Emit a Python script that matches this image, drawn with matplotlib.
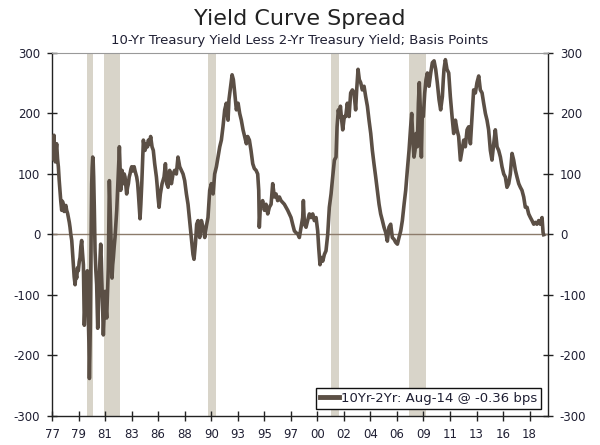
import numpy as np
import matplotlib
matplotlib.use("Agg")
import matplotlib.pyplot as plt

# 10Yr-2Yr spread, decimal year / basis points
years = [
    1977.00, 1977.08, 1977.17, 1977.23, 1977.29, 1977.35, 1977.40, 1977.48, 1977.55, 1977.62,
    1977.69, 1977.76, 1977.84, 1977.90, 1977.98, 1978.05, 1978.13, 1978.20, 1978.27, 1978.35,
    1978.42, 1978.50, 1978.56, 1978.63, 1978.71, 1978.78, 1978.85, 1978.92, 1979.00, 1979.07,
    1979.14, 1979.21, 1979.28, 1979.36, 1979.43, 1979.50, 1979.57, 1979.64, 1979.72, 1979.76,
    1979.80, 1979.88, 1979.95, 1980.01, 1980.06, 1980.10, 1980.15, 1980.20, 1980.24, 1980.28,
    1980.32, 1980.36, 1980.40, 1980.44, 1980.48, 1980.53, 1980.57, 1980.61, 1980.67, 1980.73,
    1980.80, 1980.87, 1980.92, 1980.96, 1981.03, 1981.10, 1981.16, 1981.22, 1981.27, 1981.33,
    1981.40, 1981.45, 1981.52, 1981.60, 1981.67, 1981.74, 1981.80, 1981.88, 1981.93, 1981.97,
    1982.03, 1982.09, 1982.15, 1982.20, 1982.26, 1982.32, 1982.39, 1982.46, 1982.53, 1982.61,
    1982.68, 1982.75, 1982.80, 1982.84, 1982.90, 1982.95, 1983.01, 1983.07, 1983.13, 1983.19,
    1983.26, 1983.33, 1983.40, 1983.47, 1983.55, 1983.62, 1983.69, 1983.76, 1983.84, 1983.91,
    1983.98, 1984.05, 1984.12, 1984.20, 1984.27, 1984.34, 1984.42, 1984.49, 1984.56, 1984.63,
    1984.70, 1984.78, 1984.85, 1984.92, 1984.99, 1985.06, 1985.14, 1985.21, 1985.28, 1985.35,
    1985.45, 1985.55, 1985.67, 1985.78, 1985.90, 1986.05, 1986.12, 1986.19, 1986.28, 1986.39,
    1986.54, 1986.71, 1986.83, 1986.94, 1987.06, 1987.20, 1987.35, 1987.49, 1987.63, 1987.78,
    1987.92, 1988.07, 1988.21, 1988.36, 1988.50, 1988.65, 1988.79, 1988.93, 1989.08, 1989.22,
    1989.31, 1989.43, 1989.54, 1989.66, 1989.80, 1989.95, 1990.09, 1990.24, 1990.38, 1990.52,
    1990.67, 1990.81, 1990.96, 1991.10, 1991.25, 1991.39, 1991.54, 1991.68, 1991.82, 1991.97,
    1992.11, 1992.26, 1992.34, 1992.49, 1992.61, 1992.72, 1992.84, 1992.98, 1993.13, 1993.27,
    1993.41, 1993.56, 1993.70, 1993.85, 1993.96, 1994.11, 1994.25, 1994.40, 1994.54, 1994.69,
    1994.83, 1994.92, 1994.97, 1995.06, 1995.15, 1995.26, 1995.41, 1995.55, 1995.70, 1995.84,
    1995.99, 1996.13, 1996.28, 1996.42, 1996.56, 1996.71, 1996.85, 1997.00, 1997.14, 1997.29,
    1997.43, 1997.57, 1997.72, 1997.86, 1998.01, 1998.15, 1998.30, 1998.44, 1998.59, 1998.73,
    1998.79, 1998.88, 1999.02, 1999.16, 1999.31, 1999.45, 1999.60, 1999.74, 1999.89, 2000.03,
    2000.12, 2000.23, 2000.35, 2000.47, 2000.61, 2000.75, 2000.90, 2001.04, 2001.19, 2001.33,
    2001.48, 2001.62, 2001.71, 2001.82, 2001.91, 2002.00, 2002.11, 2002.20, 2002.34, 2002.46,
    2002.60, 2002.75, 2002.89, 2003.04, 2003.18, 2003.32, 2003.41, 2003.53, 2003.64, 2003.76,
    2003.90, 2004.05, 2004.19, 2004.34, 2004.48, 2004.63, 2004.77, 2004.91, 2005.06, 2005.20,
    2005.35, 2005.49, 2005.64, 2005.78, 2005.93, 2006.07, 2006.21, 2006.36, 2006.50, 2006.65,
    2006.79, 2006.94, 2007.08, 2007.23, 2007.37, 2007.52, 2007.66, 2007.80, 2007.95, 2008.09,
    2008.18, 2008.30, 2008.38, 2008.47, 2008.56, 2008.67, 2008.76, 2008.84, 2008.93, 2009.02,
    2009.10, 2009.19, 2009.31, 2009.42, 2009.54, 2009.68, 2009.83, 2009.97, 2010.12, 2010.26,
    2010.40, 2010.55, 2010.69, 2010.84, 2010.92, 2010.98, 2011.10, 2011.24, 2011.39, 2011.53,
    2011.68, 2011.82, 2011.97, 2012.11, 2012.25, 2012.40, 2012.54, 2012.69, 2012.83, 2012.98,
    2013.12, 2013.27, 2013.41, 2013.55, 2013.70, 2013.84, 2013.99, 2014.13, 2014.28, 2014.42,
    2014.57, 2014.71, 2014.85, 2015.00, 2015.14, 2015.29, 2015.43, 2015.58, 2015.72, 2015.87,
    2016.01, 2016.16, 2016.30, 2016.44, 2016.59, 2016.73, 2016.88, 2017.02, 2017.17, 2017.31,
    2017.46, 2017.60, 2017.74, 2017.89, 2018.03, 2018.18, 2018.32, 2018.47, 2018.61, 2018.76,
    2018.90, 2019.04, 2019.19, 2019.33, 2019.48, 2019.57, 2019.62,
]
spread = [
    125, 150, 164, 135, 120, 140, 150, 125, 112, 90,
    73, 55, 40, 55, 50, 38, 45, 48, 40, 35,
    28, 20, 12, 0, -10, -30, -50, -70, -83, -65,
    -72, -55, -60, -45, -38, -20, -10, -30, -50, -100,
    -150, -110, -83, -70, -60, -100, -138, -180, -238, -200,
    -150, -60, 20, 84, 110, 128, 120, 95, 40, -27,
    -60, -83, -120, -155, -110, -70, -40, -16, -40, -83,
    -130, -166, -130, -94, -120, -138, -100, -55, 20, 89,
    50, 12, -30, -72, -50, -38, -20, -5, 15, 40,
    70, 100, 125, 145, 110, 73, 95, 106, 95, 84,
    100, 95, 80, 67, 78, 84, 95, 100, 108, 112,
    105, 109, 112, 105, 100, 95, 85, 67, 45, 26,
    50, 84, 120, 156, 145, 139, 145, 150, 145, 156,
    150, 162, 145, 139, 117, 95, 80, 62, 45, 67,
    84, 95, 117, 84, 78, 106, 84, 100, 106, 100,
    128, 112, 106, 100, 89, 67, 50, 23, -5, -33,
    -41, -16, 17, 23, -5, 23, 12, -5, 14, 28,
    73, 84, 67, 100, 112, 128, 145, 156, 178, 206,
    217, 189, 223, 245, 264, 256, 234, 206, 217, 200,
    189, 173, 162, 150, 162, 156, 139, 117, 109, 106,
    100, 73, 12, 45, 50, 56, 40, 50, 34, 45,
    50, 84, 62, 67, 56, 62, 56, 53, 50, 45,
    40, 34, 28, 17, 6, 3, 1, -5, 12, 28,
    56, 17, 12, 23, 34, 28, 34, 23, 28, 6,
    -22, -50, -38, -44, -33, -27, 0, 45, 67, 95,
    123, 128, 178, 206, 195, 212, 189, 173, 195, 195,
    217, 195, 234, 239, 234, 206, 239, 273, 256, 251,
    239, 245, 228, 212, 189, 167, 139, 117, 95, 73,
    50, 34, 23, 12, 3, -11, 12, 17, -5, -8,
    -13, -16, -5, 6, 23, 50, 73, 106, 139, 178,
    200, 150, 128, 139, 167, 145, 217, 251, 206, 128,
    200, 195, 234, 256, 267, 245, 267, 284, 287, 273,
    251, 223, 206, 228, 256, 273, 289, 273, 267, 228,
    195, 167, 189, 173, 162, 123, 139, 156, 145, 173,
    178, 150, 195, 239, 234, 251, 262, 239, 234, 217,
    200, 189, 173, 139, 123, 150, 173, 145, 139, 128,
    112, 100, 95, 78, 84, 100, 134, 123, 106, 95,
    84, 78, 73, 62, 45, 45, 34, 28, 23, 17,
    20, 17, 23, 17, 28, 3, -0.36,
]

# recessions (start, end)
rec_start = [1980.00, 1981.54, 1990.50, 2001.17, 2007.92]
rec_end = [1980.54, 1982.87, 1991.21, 2001.87, 2009.46]

tick_labels = ["77", "79", "81", "83", "86", "88", "90", "93", "95", "97",
               "00", "02", "04", "06", "09", "11", "13", "16", "18"]
y_ticks = [-300, -200, -100, 0, 100, 200, 300]

line_color = "#5b4f45"
text_color = "#1f1f33"


def draw_chart():
    plt.rcParams["font.family"] = ["DejaVu Sans"]
    # 元のチャートはハイフンのマイナス
    plt.rcParams["axes.unicode_minus"] = False
    fig = plt.figure(figsize=(6, 4.45), dpi=100)
    ax = fig.add_axes([0.0867, 0.0652, 0.8267, 0.8157])

    # 景気後退期の帯
    for s, e in zip(rec_start, rec_end):
        ax.axvspan(s, e, color="#d8d4c9", lw=0, zorder=1)

    ax.axhline(0, color="#8c7b6b", lw=1.0, zorder=2)
    ax.plot(years, spread, color=line_color, lw=2.6, zorder=3,
            solid_joinstyle="round",
            label="10Yr-2Yr: Aug-14 @ -0.36 bps")

    ax.set_xlim(1977.0, 2020.0)
    ax.set_ylim(-300, 300)
    ax.set_xticks(np.linspace(1977.0, 2018.4, len(tick_labels)))
    ax.set_xticklabels(tick_labels)
    ax.set_yticks(y_ticks)

    ax.tick_params(axis="both", direction="inout", length=7, width=1,
                   colors="#222222", labelcolor=text_color, labelsize=8.5)
    ax.tick_params(axis="y", right=True, labelright=True, pad=5)
    ax.tick_params(axis="x", pad=5)

    for side in ["left", "right", "bottom"]:
        ax.spines[side].set_color("#222222")
        ax.spines[side].set_linewidth(1.0)
    ax.spines["top"].set_color("#999999")
    ax.spines["top"].set_linewidth(0.8)

    leg = ax.legend(loc="lower right", fontsize=9.5, frameon=True,
                    fancybox=False, framealpha=1, borderpad=0.3,
                    handlelength=1.4, handletextpad=0.15,
                    borderaxespad=0.55, labelcolor=text_color)
    leg.get_frame().set_edgecolor("#111111")
    leg.get_frame().set_linewidth(1.0)
    for h in leg.get_lines():
        h.set_linewidth(3.5)

    fig.text(0.5, 0.957, "Yield Curve Spread", ha="center", va="center",
             fontsize=16, color="#222222")
    fig.text(0.5, 0.908, "10-Yr Treasury Yield Less 2-Yr Treasury Yield; Basis Points",
             ha="center", va="center", fontsize=9.5, color=text_color)

    fig.savefig("out.png", dpi=100)


if __name__ == "__main__":
    draw_chart()
